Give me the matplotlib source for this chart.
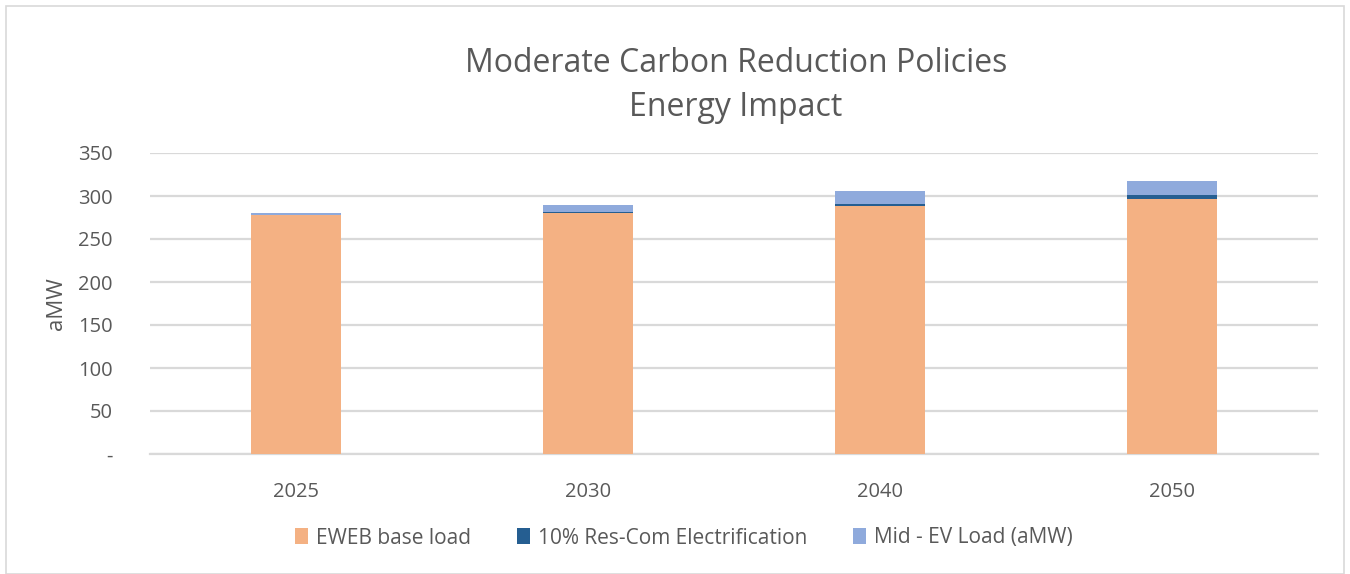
import matplotlib
matplotlib.use("Agg")
import matplotlib.pyplot as plt
from matplotlib.patches import Rectangle, Patch
import numpy as np

years = ["2025", "2030", "2040", "2050"]
base_load = [277.5, 280.0, 288.7, 296.2]
res_com = [0.3, 1.5, 2.0, 5.0]
ev_load = [2.8, 8.0, 15.0, 16.2]

series_names = ["EWEB base load", "10% Res-Com Electrification", "Mid - EV Load (aMW)"]
colors = ["#F4B183", "#255E91", "#8FAADC"]
yticks = [0, 50, 100, 150, 200, 250, 300, 350]
ytick_labels = ["-", "50", "100", "150", "200", "250", "300", "350"]

text_color = "#595959"
grid_color = "#D9D9D9"

plt.rcParams["font.family"] = ["Open Sans", "DejaVu Sans"]

fig = plt.figure(figsize=(13.5, 5.74), dpi=100)
fig.patches.append(Rectangle((6 / 1350, 0.0), 1338 / 1350, 1 - 6 / 574,
                             transform=fig.transFigure, fill=False,
                             edgecolor="#D9D9D9", linewidth=1.2))

ax = fig.add_axes([150 / 1350, 1 - 454 / 574, 1168 / 1350, 301 / 574])

x = np.arange(len(years))
width = 0.31
bottom = np.zeros(len(years))
for vals, name, col in zip([base_load, res_com, ev_load], series_names, colors):
    ax.bar(x, vals, width, bottom=bottom, color=col, label=name, zorder=3)
    bottom += np.array(vals)

ax.set_xlim(-0.5, len(years) - 0.5)
ax.set_ylim(0, 350)
ax.set_yticks(yticks)
ax.set_yticklabels(ytick_labels)
ax.set_xticks(x)
ax.set_xticklabels(years)
ax.tick_params(axis="both", length=0, colors=text_color, labelsize=14.5)
ax.tick_params(axis="y", pad=27)
ax.tick_params(axis="x", pad=20)

ax.yaxis.grid(True, color=grid_color, linewidth=1.6, zorder=0)
for s in ["top", "right", "left"]:
    ax.spines[s].set_visible(False)
ax.spines["bottom"].set_color(grid_color)
ax.spines["bottom"].set_linewidth(1.6)

ax.set_ylabel("aMW", fontsize=16, color=text_color, labelpad=8)

fig.text(736 / 1350, 1 - 63 / 574, "Moderate Carbon Reduction Policies",
         ha="center", va="center", fontsize=23, color=text_color)
fig.text(736 / 1350, 1 - 107 / 574, "Energy Impact",
         ha="center", va="center", fontsize=23, color=text_color)

handles = [Patch(facecolor=c, edgecolor="none") for c in colors]
fig.legend(handles, series_names, loc="center", bbox_to_anchor=(684 / 1350, 1 - 538 / 574),
           ncol=3, frameon=False, fontsize=15, labelcolor=text_color,
           handlelength=0.6, handleheight=0.8, handletextpad=0.4, columnspacing=2.2)

fig.savefig("out.png", dpi=100)
